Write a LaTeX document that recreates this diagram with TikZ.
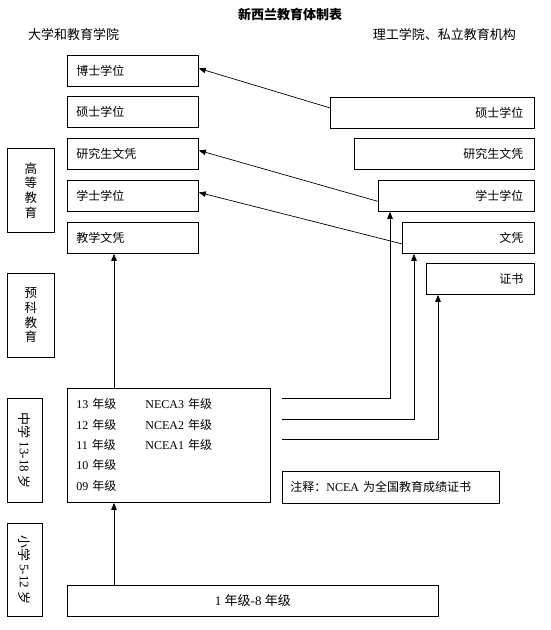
\documentclass[tikz,border=0pt]{standalone}
\usepackage{fontspec}
\usepackage{graphicx}
\setmainfont{Liberation Serif}
\newfontfamily\cjk{Noto Sans CJK SC}
\usetikzlibrary{arrows.meta}
\newcommand\zh[1]{{\cjk #1}}
\begin{document}
\begin{tikzpicture}[x=1pt,y=-1pt,
  font=\fontsize{12}{14}\selectfont,
  box/.style={draw, line width=0.8pt, inner ysep=0pt, anchor=north west},
  lbox/.style={box, minimum width=131pt, minimum height=31pt, text width=113pt, inner xsep=9pt, align=left},
  rbox/.style={box, minimum height=31pt, inner xsep=11pt, align=right},
  sidebox/.style={box, inner xsep=0pt, align=center},
  arr/.style={line width=0.7pt, -{Triangle[length=7pt,width=5.5pt]}},
  hdr/.style={inner sep=0pt}]
\useasboundingbox (0,0) rectangle (551,630);
% headers
\node[hdr, font=\fontsize{13}{15}\selectfont\cjk\bfseries] (title) at (290,14) {新西兰教育体制表};
\node[hdr, anchor=west, font=\fontsize{13}{15}\selectfont] (uni) at (28,35) {\zh{大学和教育学院}};
\node[hdr, anchor=east, font=\fontsize{13}{15}\selectfont] (poly) at (516,35) {\zh{理工学院、私立教育机构}};
% left column
\node[lbox] (phd) at (67,55) {\zh{博士学位}};
\node[lbox] (masL) at (67,96) {\zh{硕士学位}};
\node[lbox] (pgdL) at (67,138) {\zh{研究生文凭}};
\node[lbox] (bacL) at (67,180) {\zh{学士学位}};
\node[lbox] (tdip) at (67,222) {\zh{教学文凭}};
% right column
\node[rbox, minimum width=204pt, text width=182pt] (masR) at (330,97) {\zh{硕士学位}};
\node[rbox, minimum width=180pt, text width=158pt] (pgdR) at (354,138) {\zh{研究生文凭}};
\node[rbox, minimum width=156pt, text width=134pt] (bacR) at (378,180) {\zh{学士学位}};
\node[rbox, minimum width=132pt, text width=110pt] (dipR) at (402,222) {\zh{文凭}};
\node[rbox, minimum width=108pt, text width=86pt] (cert) at (426,263) {\zh{证书}};
% side labels
\node[sidebox, minimum width=47pt, minimum height=84pt, font=\fontsize{12.5}{14.7}\selectfont\cjk] (higher) at (7,148) {高\\等\\教\\育};
\node[sidebox, minimum width=47pt, minimum height=84pt, font=\fontsize{12.5}{14.7}\selectfont\cjk] (prep) at (7,273) {预\\科\\教\\育};
\node[sidebox, minimum width=35pt, minimum height=104pt, font=\fontsize{13}{15}\selectfont] (midlbl) at (7,398) {\rotatebox{-90}{\zh{中学} 13-18 \zh{岁}}};
\node[sidebox, minimum width=35pt, minimum height=93pt, font=\fontsize{13}{15}\selectfont] (prilbl) at (7,523) {\rotatebox{-90}{\zh{小学} 5-12 \zh{岁}}};
% secondary
\node[box, minimum width=203pt, minimum height=114pt, text width=185pt, inner xsep=9pt, align=left] (sec) at (67,388)
  {{\def\arraystretch{1.46}\begin{tabular}{@{}p{69pt}@{}l@{}}
   13 \zh{年级} & NECA3 \zh{年级}\\
   12 \zh{年级} & NCEA2 \zh{年级}\\
   11 \zh{年级} & NCEA1 \zh{年级}\\
   10 \zh{年级} & \\
   09 \zh{年级} & \\
   \end{tabular}}};
\node[box, minimum width=217pt, minimum height=32pt, text width=201pt, inner xsep=8pt, align=left] (note) at (282,471)
  {\zh{注释：}NCEA \zh{为全国教育成绩证书}};
\node[box, minimum width=371pt, minimum height=31pt, font=\fontsize{13}{15}\selectfont] (prim) at (67,585) {1 \zh{年级}-8 \zh{年级}};
% diagonal arrows
\draw[arr] ([yshift=5pt]masR.west) -- ([yshift=2.5pt]phd.east);
\draw[arr] ([yshift=-5.5pt]bacR.west) -- ([yshift=3.5pt]pgdL.east);
\draw[arr] ([yshift=-6pt]dipR.west) -- ([yshift=3.5pt]bacL.east);
% vertical arrows
\draw[arr] ([xshift=47pt]sec.north west) -- ([xshift=47pt]tdip.south west);
\draw[arr] ([xshift=47pt]prim.north west) -- ([xshift=47pt]sec.south west);
% secondary to polytechnic
\coordinate (s1) at (282,398);
\coordinate (s2) at (282,419);
\coordinate (s3) at (282,439);
\draw[arr] (s1) -| ([xshift=12pt]bacR.south west);
\draw[arr] (s2) -| ([xshift=12pt]dipR.south west);
\draw[arr] (s3) -| ([xshift=12pt]cert.south west);
\end{tikzpicture}
\end{document}
